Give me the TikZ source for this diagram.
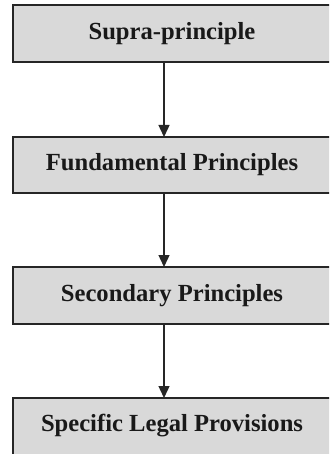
\documentclass[tikz,border=0pt]{standalone}
\usepackage{fontspec}
\setmainfont{Liberation Serif}
\usetikzlibrary{arrows.meta}
\begin{document}
\begin{tikzpicture}[x=1pt,y=1pt,
  levelbox/.style={draw=black!85,line width=1.5pt,fill=black!15,inner sep=0pt},
  levelarrow/.style={draw=black!85,line width=1.4pt,-{Triangle[length=12pt,width=11pt]}},
  lbl/.style={font=\bfseries\fontsize{24.6}{28}\selectfont,text=black!90}]
\useasboundingbox (0,0) rectangle (329,-454);
\begin{scope}
\clip (0,0) rectangle (329,-454);
\path[levelbox] (13,-5) rectangle (332,-62);
\path[levelbox] (13,-137) rectangle (332,-193);
\path[levelbox] (13,-267) rectangle (332,-324);
\path[levelbox] (13,-398) rectangle (332,-458);
\end{scope}
\node[lbl] (a) at (172,-33.5) {Supra-principle};
\node[lbl] (b) at (172,-165) {Fundamental Principles};
\node[lbl] (c) at (172,-295.5) {Secondary Principles};
\node[lbl] (d) at (172,-426) {Specific Legal Provisions};
\coordinate (a1) at (164,-62);
\coordinate (b0) at (164,-137);
\coordinate (b1) at (164,-193);
\coordinate (c0) at (164,-267);
\coordinate (c1) at (164,-324);
\coordinate (d0) at (164,-398);
\draw[levelarrow] (a1) -- (b0);
\draw[levelarrow] (b1) -- (c0);
\draw[levelarrow] (c1) -- (d0);
\end{tikzpicture}
\end{document}
